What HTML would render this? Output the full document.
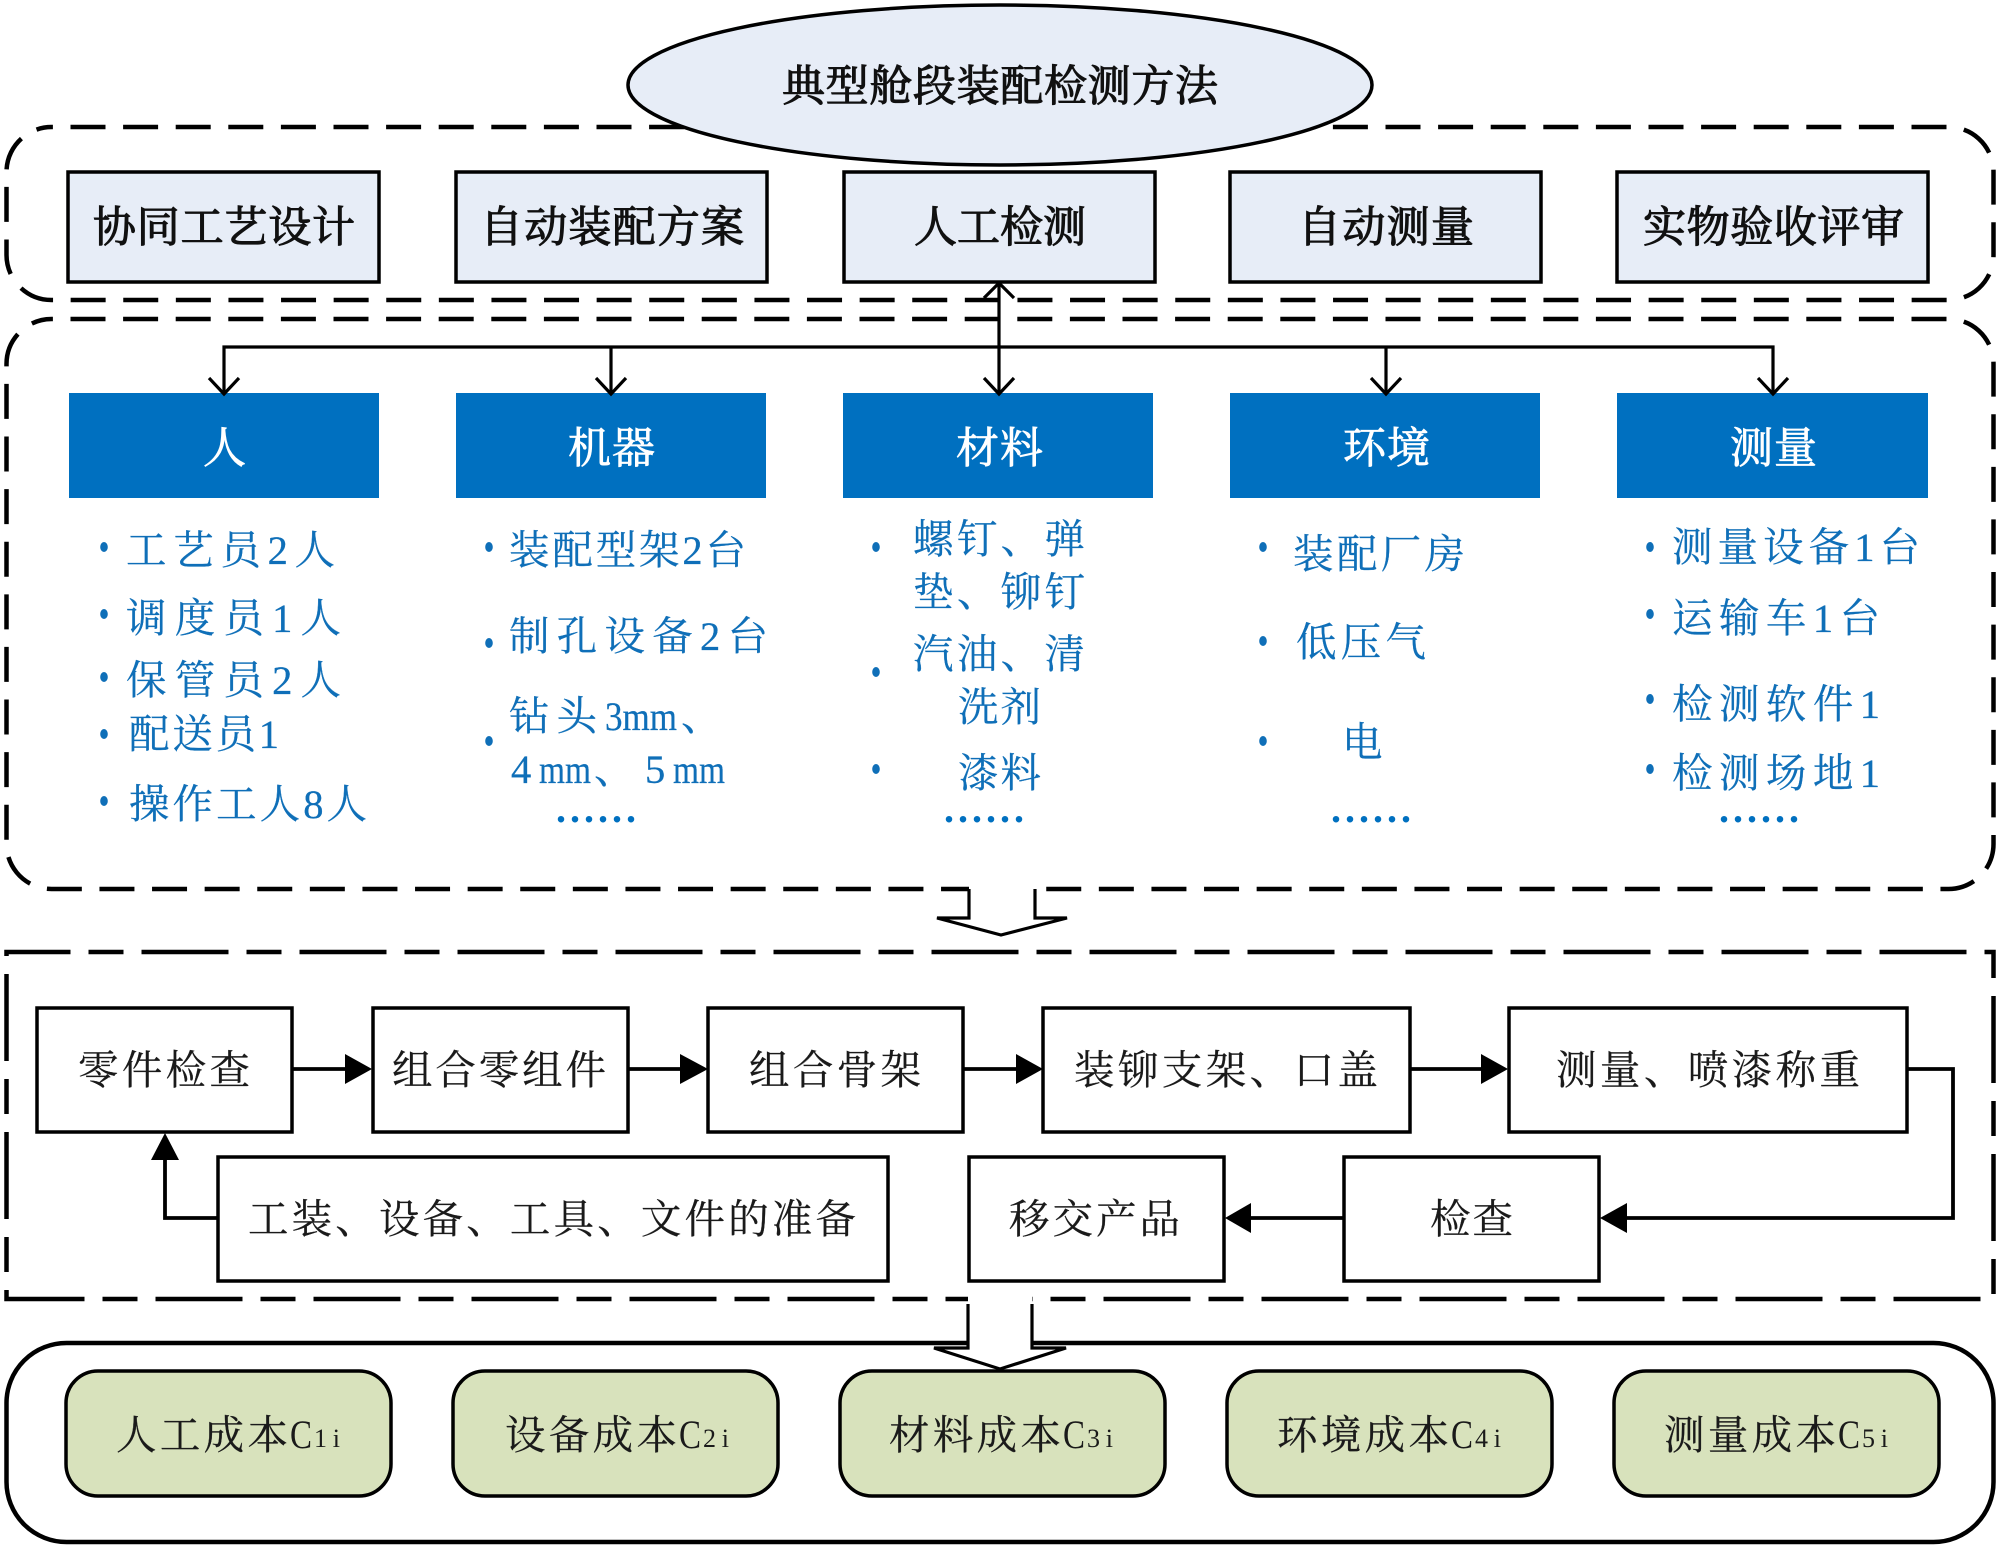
<!DOCTYPE html>
<html><head><meta charset="utf-8"><style>
html,body{margin:0;padding:0;background:#fff}
svg{display:block}
text{font-family:"Liberation Serif","Noto Serif CJK SC",serif;white-space:pre}
.k{font-size:43px;fill:#111;stroke:#111;stroke-width:1.1px;transform:translateY(1px)}
.w{font-size:43px;fill:#fff;stroke:#fff;stroke-width:.8px;transform:translateY(1px)}
.f{font-size:40.5px;fill:#1a1a1a;stroke:#1a1a1a;stroke-width:.25px;transform:translateY(1px)}
.b{font-size:40.5px;fill:#0f6fb8;stroke:#0f6fb8;stroke-width:.25px;transform:translateY(1px)}
.d{font-size:40px;fill:#0070C0;font-weight:bold}
.c{font-size:40px;fill:#1a1a1a}
.s{font-size:26px;fill:#1a1a1a}
</style></head><body>
<svg width="2000" height="1548" viewBox="0 0 2000 1548" xmlns="http://www.w3.org/2000/svg">
<rect width="2000" height="1548" fill="#fff"/>
<g fill="none" stroke="#000" stroke-width="4.5">
<rect x="6.5" y="127" width="1987" height="173" rx="45" ry="45" stroke-dasharray="35 17.6" stroke-dashoffset="-19"/>
<rect x="6.5" y="319" width="1987" height="570" rx="45" ry="45" stroke-dasharray="35 17.6" stroke-dashoffset="-19"/>
<rect x="6.5" y="952" width="1987" height="347" stroke-dasharray="87 18 35 18" stroke-dashoffset="23"/>
<rect x="6.5" y="1343" width="1987" height="199" rx="60" ry="60"/>
</g>
<!-- ellipse -->
<ellipse cx="1000" cy="85" rx="372" ry="80" fill="#E7EDF7" stroke="#000" stroke-width="3.5"/>
<text class="k" x="782" y="100" textLength="436">典型舱段装配检测方法</text>
<!-- row 1 -->
<g fill="#E7EDF7" stroke="#000" stroke-width="3.5">
<rect x="68" y="172" width="311" height="110"/>
<rect x="456" y="172" width="311" height="110"/>
<rect x="844" y="172" width="311" height="110"/>
<rect x="1230" y="172" width="311" height="110"/>
<rect x="1617" y="172" width="311" height="110"/>
</g>
<text class="k" x="93" y="241" textLength="262">协同工艺设计</text>
<text class="k" x="480" y="241" textLength="264">自动装配方案</text>
<text class="k" x="914" y="241" textLength="172">人工检测</text>
<text class="k" x="1298" y="241" textLength="176">自动测量</text>
<text class="k" x="1643" y="241" textLength="261">实物验收评审</text>
<!-- blue headers -->
<g fill="#0070C0">
<rect x="69" y="393" width="310" height="105"/>
<rect x="456" y="393" width="310" height="105"/>
<rect x="843" y="393" width="310" height="105"/>
<rect x="1230" y="393" width="310" height="105"/>
<rect x="1617" y="393" width="311" height="105"/>
</g>
<text class="w" x="203" y="462">人</text>
<text class="w" x="568" y="462" textLength="87">机器</text>
<text class="w" x="956" y="462" textLength="87">材料</text>
<text class="w" x="1343" y="462" textLength="87">环境</text>
<text class="w" x="1730" y="462" textLength="87">测量</text>
<!-- connectors -->
<g fill="none" stroke="#000" stroke-width="3.2">
<path d="M999 283V393"/>
<path d="M224 393V347H1773V393"/>
<path d="M611 347V393M1386 347V393"/>
<path d="M984 298L999 283L1014 298"/>
<path d="M209 378L224 394L239 378M596 378L611 394L626 378M984 378L999 394L1014 378M1371 378L1386 394L1401 378M1758 378L1773 394L1788 378"/>
</g>
<!-- list bullets -->
<g fill="#0F6FB8">
<ellipse cx="104" cy="547" rx="3.8" ry="5"/><ellipse cx="104" cy="614" rx="3.8" ry="5"/><ellipse cx="104" cy="677" rx="3.8" ry="5"/><ellipse cx="104" cy="734" rx="3.8" ry="5"/><ellipse cx="104" cy="801" rx="3.8" ry="5"/>
<ellipse cx="489" cy="547" rx="3.8" ry="5"/><ellipse cx="489" cy="643" rx="3.8" ry="5"/><ellipse cx="489" cy="741" rx="3.8" ry="5"/>
<ellipse cx="876" cy="547" rx="3.8" ry="5"/><ellipse cx="876" cy="672" rx="3.8" ry="5"/><ellipse cx="876" cy="769" rx="3.8" ry="5"/>
<ellipse cx="1263" cy="547" rx="3.8" ry="5"/><ellipse cx="1263" cy="641" rx="3.8" ry="5"/><ellipse cx="1263" cy="741" rx="3.8" ry="5"/>
<ellipse cx="1650" cy="547" rx="3.8" ry="5"/><ellipse cx="1650" cy="614" rx="3.8" ry="5"/><ellipse cx="1650" cy="699" rx="3.8" ry="5"/><ellipse cx="1650" cy="769" rx="3.8" ry="5"/>
</g>
<!-- list text -->
<text class="b" x="126" y="563" textLength="209">工艺员2人</text>
<text class="b" x="126" y="631" textLength="215">调度员1人</text>
<text class="b" x="126" y="693" textLength="215">保管员2人</text>
<text class="b" x="129" y="747" textLength="150">配送员1</text>
<text class="b" x="129" y="817" textLength="238">操作工人8人</text>
<text class="b" x="509" y="563" textLength="237">装配型架2台</text>
<text class="b" x="509" y="649" textLength="259">制孔设备2台</text>
<text class="b" x="509" y="729" textLength="88">钻头</text>
<text class="b" x="605" y="729" textLength="72" lengthAdjust="spacingAndGlyphs">3mm</text>
<text class="b" x="681" y="729">、</text>
<text class="b" x="511" y="782">4</text>
<text class="b" x="539" y="782" textLength="52" lengthAdjust="spacingAndGlyphs">mm</text>
<text class="b" x="594" y="782">、</text>
<text class="b" x="645" y="782">5</text>
<text class="b" x="673" y="782" textLength="52" lengthAdjust="spacingAndGlyphs">mm</text>
<text class="d" x="556" y="822" textLength="80">......</text>
<text class="b" x="913" y="552" textLength="172">螺钉、弹</text>
<text class="b" x="913" y="605" textLength="172">垫、铆钉</text>
<text class="b" x="913" y="667" textLength="172">汽油、清</text>
<text class="b" x="958" y="720" textLength="83">洗剂</text>
<text class="b" x="958" y="786" textLength="83">漆料</text>
<text class="d" x="944" y="822" textLength="80">......</text>
<text class="b" x="1293" y="567" textLength="172">装配厂房</text>
<text class="b" x="1296" y="655" textLength="130">低压气</text>
<text class="b" x="1342" y="755">电</text>
<text class="d" x="1331" y="822" textLength="80">......</text>
<text class="b" x="1672" y="560" textLength="248">测量设备1台</text>
<text class="b" x="1672" y="631" textLength="208">运输车1台</text>
<text class="b" x="1672" y="717" textLength="208">检测软件1</text>
<text class="b" x="1672" y="786" textLength="208">检测场地1</text>
<text class="d" x="1719" y="822" textLength="80">......</text>
<!-- block arrow 1 -->
<polygon points="969,885 969,918 937,918 1001,935 1067,918 1035,918 1035,885" fill="#fff"/>
<polyline points="969,889 969,918 937,918 1001,935 1067,918 1035,918 1035,889" fill="none" stroke="#000" stroke-width="3.2"/>
<!-- block arrow 2 -->
<polygon points="968,1295 968,1348 934,1348 1000,1369 1066,1348 1032,1348 1032,1295" fill="#fff"/>
<polyline points="968,1304 968,1348 934,1348 1000,1369 1066,1348 1032,1348 1032,1304" fill="none" stroke="#000" stroke-width="3.2"/>
<!-- flow boxes -->
<g fill="#fff" stroke="#000" stroke-width="3.5">
<rect x="37" y="1008" width="255" height="124"/>
<rect x="373" y="1008" width="255" height="124"/>
<rect x="708" y="1008" width="255" height="124"/>
<rect x="1043" y="1008" width="367" height="124"/>
<rect x="1509" y="1008" width="398" height="124"/>
<rect x="218" y="1157" width="670" height="124"/>
<rect x="969" y="1157" width="255" height="124"/>
<rect x="1344" y="1157" width="255" height="124"/>
</g>
<text class="f" x="78" y="1083" textLength="172">零件检查</text>
<text class="f" x="392" y="1083" textLength="214">组合零组件</text>
<text class="f" x="749" y="1083" textLength="172">组合骨架</text>
<text class="f" x="1074" y="1083" textLength="304">装铆支架、口盖</text>
<text class="f" x="1556" y="1083" textLength="304">测量、喷漆称重</text>
<text class="f" x="248" y="1232" textLength="608">工装、设备、工具、文件的准备</text>
<text class="f" x="1009" y="1232" textLength="171">移交产品</text>
<text class="f" x="1430" y="1232" textLength="83">检查</text>
<!-- flow arrows -->
<g fill="none" stroke="#000" stroke-width="3.8">
<path d="M292 1069H350M628 1069H685M963 1069H1020M1410 1069H1485"/>
<path d="M1907 1069H1953V1218H1620"/>
<path d="M1344 1218H1245"/>
<path d="M218 1218H165V1155"/>
</g>
<g fill="#000">
<polygon points="345,1054 372,1069 345,1084"/>
<polygon points="680,1054 708,1069 680,1084"/>
<polygon points="1016,1054 1043,1069 1016,1084"/>
<polygon points="1481,1054 1508,1069 1481,1084"/>
<polygon points="1627,1203 1600,1218 1627,1233"/>
<polygon points="1251,1203 1225,1218 1251,1233"/>
<polygon points="151,1160 165,1133 179,1160"/>
</g>
<!-- cost boxes -->
<g fill="#D8E2BC" stroke="#000" stroke-width="3.5">
<rect x="66" y="1371" width="325" height="125" rx="32" ry="32"/>
<rect x="453" y="1371" width="325" height="125" rx="32" ry="32"/>
<rect x="840" y="1371" width="325" height="125" rx="32" ry="32"/>
<rect x="1227" y="1371" width="325" height="125" rx="32" ry="32"/>
<rect x="1614" y="1371" width="325" height="125" rx="32" ry="32"/>
</g>
<text class="f" x="116" y="1448" textLength="172">人工成本</text><text class="c" x="290" y="1448" textLength="22" lengthAdjust="spacingAndGlyphs">C</text><text class="s" x="314" y="1447" textLength="26">1i</text>
<text class="f" x="505" y="1448" textLength="172">设备成本</text><text class="c" x="679" y="1448" textLength="22" lengthAdjust="spacingAndGlyphs">C</text><text class="s" x="703" y="1447" textLength="26">2i</text>
<text class="f" x="889" y="1448" textLength="172">材料成本</text><text class="c" x="1063" y="1448" textLength="22" lengthAdjust="spacingAndGlyphs">C</text><text class="s" x="1087" y="1447" textLength="26">3i</text>
<text class="f" x="1277" y="1448" textLength="172">环境成本</text><text class="c" x="1451" y="1448" textLength="22" lengthAdjust="spacingAndGlyphs">C</text><text class="s" x="1475" y="1447" textLength="26">4i</text>
<text class="f" x="1664" y="1448" textLength="172">测量成本</text><text class="c" x="1838" y="1448" textLength="22" lengthAdjust="spacingAndGlyphs">C</text><text class="s" x="1862" y="1447" textLength="26">5i</text>
</svg>
</body></html>
